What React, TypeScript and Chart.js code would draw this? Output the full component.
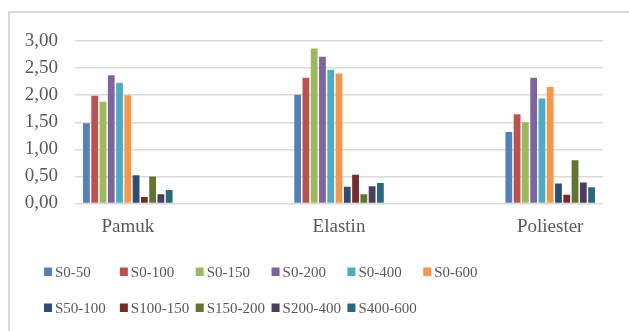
import React, { useEffect, useRef } from "react";
import { Chart, registerables } from "chart.js";

Chart.register(...registerables);

// Fabric types on the x axis
const categories = ["Pamuk", "Elastin", "Poliester"];

// Sieve fraction series
const seriesNames = [
  "S0-50",
  "S0-100",
  "S0-150",
  "S0-200",
  "S0-400",
  "S0-600",
  "S50-100",
  "S100-150",
  "S150-200",
  "S200-400",
  "S400-600",
];

// Values per fabric, in series order
const pamukValues = [1.48, 1.99, 1.88, 2.37, 2.23, 2.0, 0.52, 0.12, 0.5, 0.17, 0.25];
const elastinValues = [2.01, 2.32, 2.86, 2.71, 2.47, 2.4, 0.31, 0.53, 0.17, 0.32, 0.38];
const poliesterValues = [1.32, 1.65, 1.5, 2.32, 1.94, 2.15, 0.37, 0.16, 0.8, 0.39, 0.3];

const yTicks = [0, 0.5, 1, 1.5, 2, 2.5, 3];

const seriesColors = [
  "#4F81BD",
  "#C0504D",
  "#9BBB59",
  "#8064A2",
  "#4BACC6",
  "#F79646",
  "#2C4D75",
  "#772C2A",
  "#5F7530",
  "#4D3B62",
  "#276A7C",
];

const FONT = "'Liberation Serif', 'Times New Roman', serif";
const TEXT = "#595959";

const valuesByCategory = [pamukValues, elastinValues, poliesterValues];

// Frame around the whole chart
const framePlugin = {
  id: "frame",
  beforeDraw(chart: any) {
    const { ctx, width, height } = chart;
    ctx.save();
    ctx.fillStyle = "#ffffff";
    ctx.fillRect(0, 0, width, height);
    ctx.strokeStyle = "#d9d9d9";
    ctx.lineWidth = 2;
    ctx.beginPath();
    ctx.moveTo(9, height + 2);
    ctx.lineTo(9, 12);
    ctx.lineTo(width + 2, 12);
    ctx.stroke();
    ctx.restore();
  },
};

// Legend laid out in fixed-width columns, two rows
const gridLegendPlugin = {
  id: "gridLegend",
  afterDraw(chart: any) {
    const { ctx } = chart;
    const colWidth = 75.85;
    const left = 44;
    const rowY = [272, 308];
    ctx.save();
    ctx.font = `15px ${FONT}`;
    ctx.textBaseline = "middle";
    ctx.textAlign = "left";
    chart.data.datasets.forEach((ds: any, i: number) => {
      const col = i % 6;
      const row = Math.floor(i / 6);
      const x = left + col * colWidth;
      const y = rowY[row];
      ctx.fillStyle = ds.backgroundColor;
      ctx.fillRect(x, y - 4.5, 8, 8.5);
      ctx.fillStyle = TEXT;
      ctx.fillText(ds.label, x + 11, y + 1);
    });
    ctx.restore();
  },
};

export default function App() {
  const canvasRef = useRef<HTMLCanvasElement | null>(null);

  useEffect(() => {
    if (!canvasRef.current) return;
    const datasets = seriesNames.map((name, s) => ({
      label: name,
      data: categories.map((_, c) => ({ x: c, y: valuesByCategory[c][s] })),
      backgroundColor: seriesColors[s],
      borderWidth: 0,
      categoryPercentage: 0.431,
      barPercentage: 0.82,
    }));

    const chart = new Chart(canvasRef.current, {
      type: "bar",
      data: { datasets },
      plugins: [framePlugin, gridLegendPlugin],
      options: {
        animation: false,
        responsive: false,
        devicePixelRatio: 1,
        layout: { padding: { left: 0, right: 26, top: 41, bottom: 93.5 } },
        plugins: {
          legend: { display: false },
          tooltip: { enabled: false },
        },
        scales: {
          x: {
            type: "linear",
            offset: false,
            min: -0.25,
            max: 2.25,
            afterBuildTicks: (axis: any) => {
              axis.ticks = categories.map((_, i) => ({ value: i }));
            },
            afterFit: (axis: any) => {
              axis.height = 34;
            },
            ticks: {
              autoSkip: false,
              maxRotation: 0,
              padding: 12,
              color: TEXT,
              font: { family: FONT, size: 19 },
              callback: (v: any) => categories[Number(v)] ?? "",
            },
            grid: { display: false, drawTicks: false, offset: false },
            border: { display: false },
          },
          y: {
            min: 0,
            max: 3,
            afterBuildTicks: (axis: any) => {
              axis.ticks = yTicks.map((v) => ({ value: v }));
            },
            afterFit: (axis: any) => {
              axis.width = 75;
            },
            ticks: {
              padding: 17,
              color: TEXT,
              font: { family: FONT, size: 19 },
              callback: (v: any) => Number(v).toFixed(2).replace(".", ","),
            },
            grid: { color: "#d9d9d9", lineWidth: 1.5, drawTicks: false },
            border: { display: false },
          },
        },
      },
    });
    return () => chart.destroy();
  }, []);

  return (
    <div style={{ position: "fixed", left: 0, top: 0, width: 629, height: 331, background: "#fff" }}>
      <canvas ref={canvasRef} width={629} height={331} style={{ display: "block" }} />
    </div>
  );
}
